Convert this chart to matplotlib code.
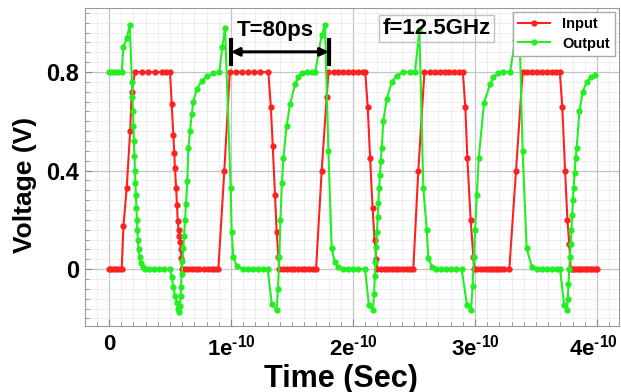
import numpy as np
import matplotlib
matplotlib.use('Agg')
import matplotlib.pyplot as plt
import matplotlib.transforms as mtransforms
from matplotlib.ticker import MultipleLocator

# transient simulation, times in ps
input_t_ps = [
    0, 2, 4, 6, 8, 10.4,
    11.8, 14.5, 17.3, 18.6, 21.3,
    26.8, 32.2, 37.7, 43.2, 47, 50,
    51.4, 52.7, 53.5, 54, 55, 55.7, 56.3, 57, 57.6, 58.3, 58.9, 59.3, 59.6,
    62, 65, 68, 71, 74, 77.5, 81, 84.5, 87, 89.6,
    94.5, 99,
    104, 109, 114, 119, 124, 130.6,
    132.6, 134.2, 136, 137.4, 138.8, 139.6,
    143, 146, 149, 152, 155, 158, 161, 164, 167, 169.7,
    174.3, 178.4, 179.8,
    184, 188, 192, 196, 200, 204, 208, 210,
    212, 214, 216, 217.6, 219, 220,
    223, 226, 229, 232, 235, 238, 241, 244, 247, 249.4,
    253.5, 258.5,
    263, 267, 271, 275, 279, 283, 287, 290,
    292, 293.7, 296.4, 298.6, 299.5,
    302, 305, 308, 311, 313, 315, 317, 319, 321, 324, 328.1,
    333.6, 339,
    343, 347, 351, 355, 359, 363, 366, 369.5,
    371.5, 373.8, 375.7, 377.3, 378.4,
    380, 382, 384, 386, 388, 390, 392, 394, 396, 398, 400]
input_v = [
    0, 0, 0, 0, 0, 0,
    0.175, 0.33, 0.56, 0.72, 0.8,
    0.8, 0.8, 0.8, 0.8, 0.8, 0.8,
    0.67, 0.545, 0.47, 0.41, 0.33, 0.26, 0.195, 0.16, 0.135, 0.11, 0.08, 0.045, 0,
    0, 0, 0, 0, 0, 0, 0, 0, 0, 0,
    0.4, 0.8,
    0.8, 0.8, 0.8, 0.8, 0.8, 0.8,
    0.66, 0.5, 0.3, 0.15, 0.05, 0,
    0, 0, 0, 0, 0, 0, 0, 0, 0, 0,
    0.4, 0.7, 0.8,
    0.8, 0.8, 0.8, 0.8, 0.8, 0.8, 0.8, 0.8,
    0.66, 0.45, 0.25, 0.12, 0.04, 0,
    0, 0, 0, 0, 0, 0, 0, 0, 0, 0,
    0.4, 0.8,
    0.8, 0.8, 0.8, 0.8, 0.8, 0.8, 0.8, 0.8,
    0.66, 0.45, 0.2, 0.05, 0,
    0, 0, 0, 0, 0, 0, 0, 0, 0, 0, 0,
    0.4, 0.8,
    0.8, 0.8, 0.8, 0.8, 0.8, 0.8, 0.8, 0.8,
    0.66, 0.4, 0.2, 0.1, 0,
    0, 0, 0, 0, 0, 0, 0, 0, 0, 0, 0]

output_t_ps = [
    0, 2.5, 5, 7.5, 10.4,
    11.8, 14.5, 17,
    18.8, 19.2, 19.6, 20.0, 20.4, 20.8, 21.2, 21.6, 22.0, 22.4, 22.8, 23.2, 23.6, 24.2, 25.0, 26.0, 27.5, 29.5,
    33, 37, 41, 45, 50,
    51.4, 52.7, 54.1, 55.5, 56.8, 57.4,
    58.2, 58.7, 59.0, 59.6, 60.1, 60.9, 61.5, 62.3, 63.1, 64.2, 65.0, 66.4, 67.8, 69.1, 71.9, 76.0, 80.1, 85.5, 90.4,
    92.8, 95.1,
    99.7, 100.5, 101.9, 104.6, 110,
    114, 118, 122, 126, 130,
    133.4, 137.4,
    138.5, 139.5, 140.5, 141.7, 142.9, 145.5, 148.4, 152.5, 155.2, 157.9, 162, 166, 169,
    174.3, 177,
    179.8, 182.5, 185, 188,
    192, 196, 200, 204, 209.8,
    213, 216.4,
    217.2, 217.8, 218.4, 219, 219.6, 220.2, 220.8, 221.4, 222, 222.8, 223.5, 224.8, 227.6, 231.7, 235.8, 241.3, 246.7, 250.8,
    254.4,
    257.6, 260.4, 261.7, 264.5,
    268, 272, 276, 280, 284, 289,
    293.4, 296.7,
    298, 299, 300, 301.5, 303, 307.4, 312.3, 315, 319, 323, 328.7,
    332.8, 336.3,
    339, 342.3, 346.5,
    350.6, 354.7, 358.8, 362.8, 366.9, 369.7,
    373, 375.4,
    376, 376.6, 377.2, 377.8, 378.4, 379, 379.6, 380.2, 380.8, 381.6, 382.5, 383.3, 385.5, 388.3, 391.5, 394.8, 398.4]
output_v = [
    0.8, 0.8, 0.8, 0.8, 0.8,
    0.9, 0.94, 0.99,
    0.76, 0.70, 0.64, 0.58, 0.52, 0.46, 0.40, 0.35, 0.30, 0.25, 0.20, 0.16, 0.12, 0.08, 0.05, 0.025, 0.01, 0,
    0, 0, 0, 0, 0,
    -0.032, -0.071, -0.11, -0.136, -0.162, -0.175,
    -0.149, -0.11, -0.071, -0.019, 0.032, 0.084, 0.136, 0.2, 0.266, 0.357, 0.49, 0.56, 0.63, 0.68, 0.73, 0.765, 0.782, 0.795, 0.8,
    0.9, 0.98,
    0.33, 0.15, 0.05, 0.012, 0,
    0, 0, 0, 0, 0,
    -0.14, -0.167,
    -0.08, 0.05, 0.2, 0.35, 0.45, 0.58, 0.67, 0.75, 0.78, 0.795, 0.8, 0.8, 0.8,
    0.95, 0.99,
    0.48, 0.085, 0.03, 0.01,
    0, 0, 0, 0, 0,
    -0.145, -0.167,
    -0.1, -0.03, 0.03, 0.09, 0.15, 0.21, 0.27, 0.33, 0.38, 0.44, 0.49, 0.6, 0.69, 0.76, 0.785, 0.8, 0.8, 0.8,
    0.97,
    0.33, 0.16, 0.045, 0.01,
    0, 0, 0, 0, 0, 0,
    -0.145, -0.167,
    -0.07, 0.05, 0.16, 0.3, 0.45, 0.676, 0.75, 0.78, 0.795, 0.8, 0.8,
    0.93, 0.99,
    0.48, 0.085, 0.01,
    0, 0, 0, 0, 0, 0,
    -0.145, -0.167,
    -0.12, -0.06, 0.0, 0.05, 0.1, 0.16, 0.22, 0.28, 0.33, 0.39, 0.45, 0.49, 0.64, 0.72, 0.76, 0.78, 0.79]

xtick_vals = [0, 1e-10, 2e-10, 3e-10, 4e-10]
xtick_labels = ['0', r'1e$^{\text{-}10}$', r'2e$^{\text{-}10}$', r'3e$^{\text{-}10}$', r'4e$^{\text{-}10}$']
ytick_vals = [0, 0.4, 0.8]
ytick_labels = ['0', '0.4', '0.8']

plt.rcParams['font.family'] = 'Liberation Sans'
plt.rcParams['font.weight'] = 'bold'
plt.rcParams['mathtext.fontset'] = 'custom'
plt.rcParams['mathtext.rm'] = 'Liberation Sans:bold'
plt.rcParams['mathtext.it'] = 'Liberation Sans:bold'
plt.rcParams['mathtext.bf'] = 'Liberation Sans:bold'
plt.rcParams['mathtext.default'] = 'rm'

fig = plt.figure(figsize=(6.21, 3.92), dpi=100)
ax = fig.add_axes([85 / 621, 1 - 326 / 392, (619 - 85) / 621, (326 - 8) / 392])

t_in = np.array(input_t_ps) * 1e-12
t_out = np.array(output_t_ps) * 1e-12
ax.plot(t_in, input_v, color='#ff2020', lw=1.5, marker='o', ms=3.5, label='Input', zorder=3)
ax.plot(t_out, output_v, color='#22ee22', lw=1.5, marker='o', ms=3.5, label='Output', zorder=3)

ax.set_xlim(-19.7e-12, 418e-12)
ax.set_ylim(-0.231, 1.06)
ax.set_xticks(xtick_vals, xtick_labels)
ax.set_yticks(ytick_vals, ytick_labels)
ax.xaxis.set_minor_locator(MultipleLocator(1e-11))
ax.yaxis.set_minor_locator(MultipleLocator(0.04))
ax.grid(which='major', color='#c4c4c4', lw=0.9)
ax.grid(which='minor', color='#ebebeb', lw=0.6)
ax.set_axisbelow(True)
ax.tick_params(which='both', direction='in', color='#888888', labelsize=17)
ax.tick_params(axis='x', labelsize=16, pad=6)
ax.tick_params(which='major', length=5)
ax.tick_params(which='minor', length=3)
ax.tick_params(axis='y', pad=4)
for sp in ax.spines.values():
    sp.set_color('#999999')

# last tick label sits on the figure edge, nudge it in a little
last = ax.get_xticklabels()[-1]
last.set_transform(last.get_transform() + mtransforms.ScaledTranslation(-4 / 100, 0, fig.dpi_scale_trans))

ax.set_xlabel('Time (Sec)', fontsize=22, fontweight='bold')
ax.xaxis.set_label_coords(0.479, -0.118)
ax.set_ylabel('Voltage (V)', fontsize=19, fontweight='bold')
ax.yaxis.set_label_coords(-0.09, 0.445)

# period marker
ax.annotate('', xy=(100e-12, 0.882), xytext=(180e-12, 0.882),
            arrowprops=dict(arrowstyle='<|-|>', color='black', lw=2.2,
                            mutation_scale=12, shrinkA=0, shrinkB=0))
ax.plot([100e-12, 100e-12], [0.825, 0.94], color='black', lw=3, solid_capstyle='butt')
ax.plot([180e-12, 180e-12], [0.825, 0.94], color='black', lw=3, solid_capstyle='butt')
ax.text(136e-12, 0.97, 'T=80ps', fontsize=16, fontweight='bold', ha='center', va='center')
ax.text(268.4e-12, 0.977, 'f=12.5GHz', fontsize=16, fontweight='bold', ha='center', va='center',
        bbox=dict(boxstyle='square,pad=0.15', fc='none', ec='#c0c0c0', lw=1))

ax.legend(loc='upper right', prop={'weight': 'bold', 'size': 10.5}, frameon=True,
          fancybox=False, edgecolor='#aaaaaa', framealpha=1, borderaxespad=0.3,
          handlelength=2.2, labelspacing=0.35, borderpad=0.35, handletextpad=0.8)

fig.savefig('out.png', dpi=100)
